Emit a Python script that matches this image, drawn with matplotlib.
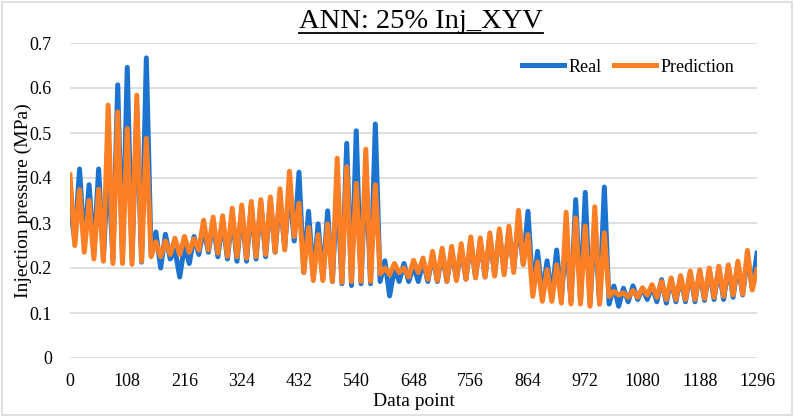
import matplotlib.pyplot as plt
from matplotlib.lines import Line2D
from matplotlib.patches import Rectangle
import numpy as np

# one oscillation cycle = 18 data points; peaks at k*18, troughs at k*18 + 9
cycle_len = 18
x_ticks = list(range(0, 1297, 108))
y_ticks = [0, 0.1, 0.2, 0.3, 0.4, 0.5, 0.6, 0.7]

real_peaks = [0.34, 0.42, 0.385, 0.42, 0.43, 0.607, 0.646, 0.55, 0.667, 0.28,
              0.275, 0.24, 0.25, 0.27, 0.29, 0.30, 0.305, 0.32, 0.33, 0.34,
              0.345, 0.35, 0.36, 0.38, 0.413, 0.326, 0.298, 0.327, 0.38, 0.477,
              0.505, 0.42, 0.52, 0.216, 0.20, 0.21, 0.205, 0.215, 0.23, 0.235,
              0.24, 0.245, 0.26, 0.26, 0.27, 0.28, 0.285, 0.30, 0.326, 0.237,
              0.216, 0.24, 0.27, 0.352, 0.368, 0.30, 0.38, 0.16, 0.155, 0.16,
              0.155, 0.16, 0.174, 0.175, 0.18, 0.19, 0.193, 0.196, 0.2, 0.203,
              0.21, 0.225, 0.233]
real_troughs = [0.26, 0.25, 0.23, 0.22, 0.22, 0.22, 0.22, 0.213, 0.23, 0.20,
                0.22, 0.18, 0.21, 0.23, 0.235, 0.225, 0.22, 0.215, 0.215, 0.22,
                0.225, 0.235, 0.245, 0.26, 0.19, 0.18, 0.175, 0.17, 0.165, 0.161,
                0.165, 0.165, 0.17, 0.138, 0.17, 0.17, 0.17, 0.17, 0.17, 0.17,
                0.175, 0.175, 0.18, 0.18, 0.185, 0.19, 0.2, 0.21, 0.15, 0.14,
                0.135, 0.13, 0.125, 0.125, 0.12, 0.12, 0.12, 0.115, 0.125, 0.13,
                0.13, 0.125, 0.122, 0.125, 0.125, 0.125, 0.128, 0.13, 0.13, 0.135,
                0.14, 0.155]
pred_peaks = [0.407, 0.374, 0.35, 0.375, 0.562, 0.547, 0.51, 0.584, 0.488, 0.258,
              0.26, 0.266, 0.27, 0.265, 0.306, 0.313, 0.316, 0.333, 0.34, 0.348,
              0.352, 0.358, 0.376, 0.415, 0.344, 0.29, 0.274, 0.298, 0.444, 0.425,
              0.388, 0.464, 0.385, 0.2, 0.21, 0.2, 0.217, 0.222, 0.237, 0.244,
              0.248, 0.254, 0.269, 0.267, 0.278, 0.287, 0.293, 0.328, 0.274, 0.213,
              0.196, 0.207, 0.324, 0.311, 0.293, 0.336, 0.278, 0.148, 0.145, 0.15,
              0.156, 0.163, 0.17, 0.178, 0.183, 0.193, 0.196, 0.2, 0.204, 0.207,
              0.215, 0.239, 0.196]
pred_troughs = [0.25, 0.235, 0.22, 0.215, 0.21, 0.21, 0.208, 0.215, 0.225, 0.225,
                0.23, 0.23, 0.235, 0.24, 0.24, 0.233, 0.226, 0.225, 0.222, 0.225,
                0.23, 0.235, 0.24, 0.27, 0.19, 0.172, 0.172, 0.17, 0.168, 0.17,
                0.17, 0.17, 0.187, 0.185, 0.19, 0.18, 0.19, 0.175, 0.172, 0.17,
                0.172, 0.175, 0.178, 0.18, 0.182, 0.185, 0.19, 0.207, 0.137, 0.126,
                0.126, 0.122, 0.12, 0.12, 0.115, 0.12, 0.137, 0.14, 0.135, 0.135,
                0.14, 0.135, 0.13, 0.13, 0.13, 0.13, 0.132, 0.135, 0.137, 0.14,
                0.142, 0.151]


def zigzag(peaks, troughs):
    vals = []
    for i, p in enumerate(peaks):
        vals.append(p)
        if i < len(troughs):
            vals.append(troughs[i])
    x = np.arange(len(vals)) * cycle_len / 2
    return x, np.array(vals)


plt.rcParams["font.family"] = ["Liberation Serif", "DejaVu Serif"]

fig = plt.figure(figsize=(7.94, 4.17), dpi=100)
fig.patches.append(Rectangle((0.003, 0.004), 0.994, 0.992, transform=fig.transFigure,
                             fill=False, edgecolor="#d9d9d9", linewidth=1.2))
ax = fig.add_axes([70 / 794, 1 - 358 / 417, 687 / 794, 315 / 417])

xr, yr = zigzag(real_peaks, real_troughs)
xp, yp = zigzag(pred_peaks, pred_troughs)
ax.plot(xr, yr, color="#1c74d0", linewidth=3.6, solid_joinstyle="round", label="Real")
ax.plot(xp, yp, color="#fd7f25", linewidth=3.6, solid_joinstyle="round", label="Prediction")

ax.set_xlim(0, 1296)
ax.set_ylim(0, 0.7)
ax.set_xticks(x_ticks)
ax.set_xticklabels([str(t) for t in x_ticks], fontsize=13)
ax.set_yticks(y_ticks)
ax.set_yticklabels(["0"] + [f"{t:.1f}" for t in y_ticks[1:]], fontsize=13)
ax.tick_params(length=0)
ax.tick_params(axis="y", pad=13)
ax.tick_params(axis="x", pad=11)
ax.grid(axis="y", color="#d9d9d9", linewidth=1.2)
ax.set_axisbelow(True)
for s in ax.spines.values():
    s.set_visible(False)

ax.set_xlabel("Data point", fontsize=14)
ax.xaxis.set_label_coords(0.5, -0.112)
ax.set_ylabel("Injection pressure (MPa)", fontsize=14)
ax.yaxis.set_label_coords(-0.056, 0.5)

leg = ax.legend(loc="upper right", bbox_to_anchor=(0.982, 0.985), ncol=2, frameon=False,
                fontsize=13, handlelength=2.3, columnspacing=0.7, handletextpad=0.25,
                borderaxespad=0.2)

title = fig.text(0.53, 1 - 22 / 417, "ANN: 25% Inj_XYV", fontsize=20.5,
                 ha="center", va="center")
fig.canvas.draw()
bb = title.get_window_extent().transformed(fig.transFigure.inverted())
fig.add_artist(Line2D([bb.x0, bb.x1], [bb.y0 + 0.004, bb.y0 + 0.004],
                      transform=fig.transFigure, color="black", linewidth=1.3))

fig.savefig("out.png", dpi=100)
